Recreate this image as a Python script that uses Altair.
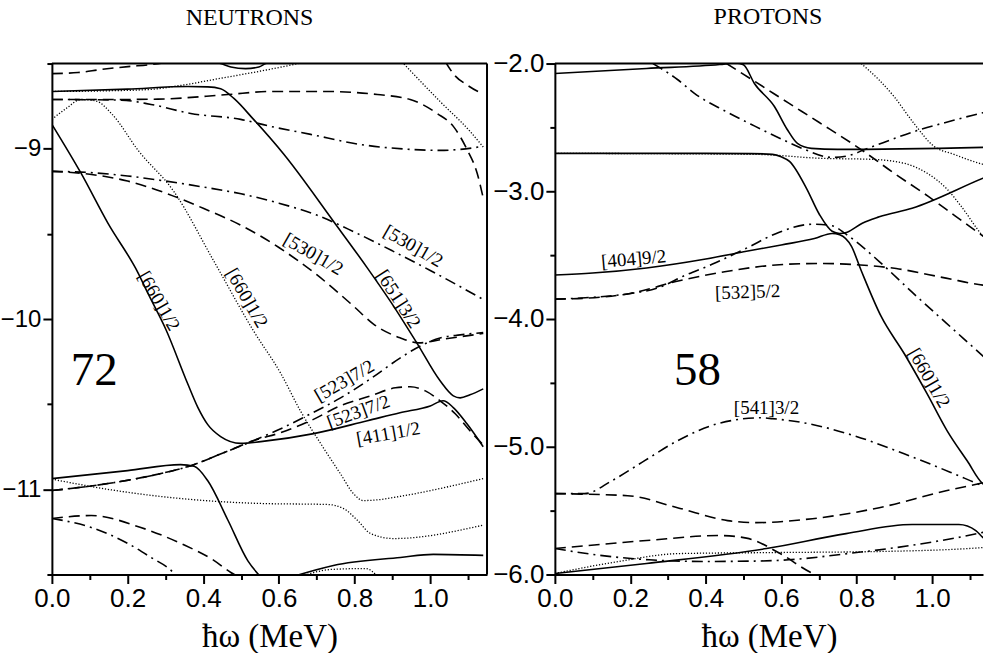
import altair as alt
import pandas as pd

# ---------------- NEUTRONS panel (x: hbar*omega in MeV, y: energy) ----------------
n01_x = [0.0, 0.077, 0.148, 0.228, 0.254, 0.301, 0.359, 0.386, 0.412, 0.446, 0.499, 0.552, 0.692, 0.834, 0.92, 1.000, 1.034, 1.061, 1.097, 1.14]
n01_y = [-8.857, -9.144, -9.437, -9.730, -9.85, -10.06, -10.38, -10.52, -10.62, -10.69, -10.73, -10.72, -10.673, -10.597, -10.55, -10.51, -10.48, -10.52, -10.615, -10.75]
n02_x = [0.0, 0.2, 0.359, 0.412, 0.446, 0.481, 0.533, 0.613, 0.744, 0.834, 0.903, 0.966, 1.026, 1.061, 1.079, 1.105, 1.14]
n02_y = [-8.664, -8.65, -8.635, -8.637, -8.648, -8.705, -8.828, -9.033, -9.426, -9.701, -9.924, -10.146, -10.363, -10.451, -10.463, -10.445, -10.41]
n03_x = [0.0, 0.15, 0.26, 0.35, 0.45, 0.55, 0.64, 0.67]
n03_y = [-8.664, -8.66, -8.652, -8.625, -8.585, -8.545, -8.505, -8.49]
n04_x = [0.0, 0.069, 0.130, 0.201, 0.262, 0.31]
n04_y = [-8.559, -8.553, -8.535, -8.518, -8.506, -8.49]
n05_x = [0.43, 0.446, 0.473, 0.512, 0.547, 0.565, 0.58]
n05_y = [-8.49, -8.5, -8.52, -8.53, -8.52, -8.5, -8.49]
n06_x = [0.0, 0.183, 0.28, 0.465, 0.578, 0.729, 0.860, 0.947, 1.018, 1.061, 1.097, 1.124, 1.14]
n06_y = [-8.711, -8.711, -8.709, -8.682, -8.664, -8.664, -8.682, -8.711, -8.793, -8.869, -9.004, -9.144, -9.29]
n07_x = [0.0, 0.183, 0.262, 0.367, 0.499, 0.578, 0.684, 0.815, 0.947, 1.026, 1.079, 1.14]
n07_y = [-8.711, -8.715, -8.740, -8.793, -8.828, -8.869, -8.916, -8.975, -9.004, -9.010, -9.004, -8.986]
n08_x = [0.0, 0.04, 0.077, 0.117, 0.16, 0.228, 0.322, 0.428, 0.533, 0.605, 0.657, 0.71, 0.763, 0.797, 0.823, 0.868, 0.903, 1.14]
n08_y = [-8.828, -8.76, -8.711, -8.72, -8.80, -9.01, -9.25, -9.66, -10.07, -10.32, -10.54, -10.73, -10.91, -11.025, -11.066, -11.06, -11.048, -10.937]
n09_x = [0.0, 0.1, 0.2, 0.3, 0.4, 0.5, 0.6, 0.7, 0.8, 0.9, 1.0, 1.14]
n09_y = [-9.133, -9.14, -9.16, -9.19, -9.225, -9.265, -9.32, -9.39, -9.49, -9.60, -9.715, -9.885]
n10_x = [0.0, 0.1, 0.2, 0.3, 0.4, 0.5, 0.6, 0.7, 0.8, 0.85, 0.92, 0.97, 1.03, 1.14]
n10_y = [-9.133, -9.15, -9.19, -9.26, -9.35, -9.45, -9.58, -9.74, -9.93, -10.03, -10.11, -10.14, -10.12, -10.085]
n11_x = [0.0, 0.2, 0.34, 0.376, 0.412, 0.465, 0.518, 0.55]
n11_y = [-10.937, -10.89, -10.855, -10.865, -10.95, -11.18, -11.42, -11.51]
n12_x = [0.0, 0.148, 0.322, 0.552, 0.729, 0.771, 0.808, 0.842, 0.903, 1.14]
n12_y = [-10.94, -11.0, -11.05, -11.083, -11.089, -11.113, -11.183, -11.259, -11.289, -11.21]
n13_x = [0.0, 0.148, 0.262, 0.367, 0.454, 0.533, 0.605, 0.684, 0.763, 0.842, 0.908, 0.947, 0.987, 1.026, 1.066, 1.105, 1.14]
n13_y = [-11.007, -10.966, -10.920, -10.861, -10.785, -10.714, -10.667, -10.597, -10.509, -10.451, -10.404, -10.398, -10.422, -10.480, -10.556, -10.656, -10.74]
n14_x = [0.0, 0.148, 0.262, 0.367, 0.454, 0.533, 0.605, 0.684, 0.763, 0.842, 0.921, 0.974, 1.026, 1.079, 1.14]
n14_y = [-11.007, -10.966, -10.920, -10.861, -10.785, -10.714, -10.644, -10.556, -10.463, -10.351, -10.228, -10.158, -10.111, -10.093, -10.08]
n15_x = [0.0, 0.104, 0.235, 0.341, 0.428, 0.473, 0.49]
n15_y = [-11.171, -11.154, -11.224, -11.318, -11.417, -11.488, -11.51]
n16_x = [0.0, 0.104, 0.201, 0.262, 0.315, 0.33]
n16_y = [-11.171, -11.224, -11.318, -11.400, -11.476, -11.51]
n17_x = [0.925, 1.026, 1.105, 1.14]
n17_y = [-8.49, -8.723, -8.898, -8.99]
n18_x = [1.04, 1.061, 1.1, 1.14]
n18_y = [-8.49, -8.56, -8.63, -8.68]
n19_x = [0.64, 0.744, 0.921, 1.008, 1.14]
n19_y = [-11.51, -11.447, -11.40, -11.382, -11.388]
n20_x = [0.66, 0.74, 0.83, 0.86]
n20_y = [-11.51, -11.47, -11.465, -11.51]

n_curves = [
    ("n01", "solid", n01_x, n01_y), ("n02", "solid", n02_x, n02_y),
    ("n03", "dotted", n03_x, n03_y), ("n04", "dashed", n04_x, n04_y),
    ("n05", "solid", n05_x, n05_y), ("n06", "dashed", n06_x, n06_y),
    ("n07", "dashdot", n07_x, n07_y), ("n08", "dotted", n08_x, n08_y),
    ("n09", "dashdot", n09_x, n09_y), ("n10", "dashed", n10_x, n10_y),
    ("n11", "solid", n11_x, n11_y), ("n12", "dotted", n12_x, n12_y),
    ("n13", "dashed", n13_x, n13_y), ("n14", "dashdot", n14_x, n14_y),
    ("n15", "dashed", n15_x, n15_y), ("n16", "dashdot", n16_x, n16_y),
    ("n17", "dotted", n17_x, n17_y), ("n18", "dashed", n18_x, n18_y),
    ("n19", "solid", n19_x, n19_y), ("n20", "dotted", n20_x, n20_y),
]

n_lab_text = ["[660]1/2", "[660]1/2", "[530]1/2", "[530]1/2", "[651]3/2", "[523]7/2", "[523]7/2", "[411]1/2"]
n_lab_x = [0.283, 0.515, 0.691, 0.955, 0.916, 0.773, 0.810, 0.889]
n_lab_y = [-9.894, -9.877, -9.619, -9.572, -9.883, -10.363, -10.545, -10.673]
n_lab_angle = [60, 60, 30, 30, 57, 330, 340, 350]
n_big_text, n_big_x, n_big_y = ["72"], [0.112], [-10.304]

# ---------------- PROTONS panel ----------------
p01_x = [0.0, 0.243, 0.437, 0.48, 0.50, 0.529, 0.582, 0.616, 0.643, 0.680, 0.749, 1.135, 1.15]
p01_y = [-2.078, -2.039, -2.008, -1.995, -2.01, -2.156, -2.336, -2.516, -2.625, -2.664, -2.672, -2.656, -2.655]
p02_x = [0.26, 0.325, 0.37, 0.45, 0.53, 0.60, 0.66, 0.735, 0.78, 0.82, 0.87, 0.96, 1.05, 1.135, 1.15]
p02_y = [-2.0, -2.125, -2.234, -2.37, -2.49, -2.59, -2.67, -2.735, -2.72, -2.675, -2.62, -2.525, -2.45, -2.385, -2.375]
p03_x = [0.455, 0.53, 0.62, 0.70, 0.81, 0.90, 0.99, 1.06, 1.135, 1.15]
p03_y = [-2.0, -2.14, -2.31, -2.46, -2.67, -2.86, -3.04, -3.19, -3.35, -3.38]
p04_x = [0.0, 0.40, 0.52, 0.577, 0.60, 0.622, 0.667, 0.701, 0.735, 0.755, 0.775, 0.815, 0.86, 0.947, 1.135, 1.15]
p04_y = [-2.703, -2.703, -2.705, -2.711, -2.73, -2.766, -2.977, -3.180, -3.313, -3.33, -3.32, -3.25, -3.20, -3.133, -2.898, -2.88]
p05_x = [0.0, 0.529, 0.706, 0.839, 0.926, 0.987, 1.040, 1.077, 1.135, 1.15]
p05_y = [-2.703, -2.711, -2.742, -2.75, -2.781, -2.859, -2.984, -3.117, -3.352, -3.40]
p06_x = [0.812, 0.86, 0.899, 0.952, 1.005, 1.058, 1.135, 1.15]
p06_y = [-2.0, -2.13, -2.258, -2.469, -2.648, -2.711, -2.789, -2.80]
p07_x = [0.0, 0.1, 0.2, 0.27, 0.344, 0.418, 0.508, 0.595, 0.683, 0.735, 0.772, 0.86, 0.947, 1.037, 1.135, 1.15]
p07_y = [-3.844, -3.83, -3.80, -3.76, -3.66, -3.57, -3.445, -3.32, -3.258, -3.27, -3.336, -3.55, -3.79, -4.03, -4.29, -4.33]
p08_x = [0.0, 0.06, 0.2, 0.33, 0.45, 0.595, 0.70, 0.772, 0.905, 1.037, 1.135, 1.15]
p08_y = [-3.844, -3.84, -3.80, -3.70, -3.63, -3.575, -3.565, -3.57, -3.605, -3.68, -3.735, -3.74]
p09_x = [0.0, 0.1, 0.243, 0.4, 0.508, 0.60, 0.688, 0.735, 0.755, 0.786, 0.812, 0.865, 0.926, 0.987, 1.040, 1.093, 1.135, 1.15]
p09_y = [-3.656, -3.64, -3.60, -3.53, -3.47, -3.42, -3.37, -3.33, -3.34, -3.43, -3.62, -3.98, -4.27, -4.586, -4.875, -5.11, -5.29, -5.31]
p10_x = [0.0, 0.079, 0.151, 0.238, 0.325, 0.431, 0.548, 0.577, 0.661, 0.794, 0.926, 1.058, 1.135, 1.15]
p10_y = [-5.367, -5.367, -5.266, -5.109, -4.953, -4.82, -4.773, -4.78, -4.813, -4.914, -5.055, -5.211, -5.305, -5.32]
p11_x = [0.0, 0.193, 0.325, 0.458, 0.534, 0.683, 0.860, 1.037, 1.135, 1.15]
p11_y = [-5.367, -5.383, -5.477, -5.578, -5.594, -5.563, -5.477, -5.344, -5.281, -5.27]
p12_x = [0.0, 0.243, 0.437, 0.508, 0.595, 0.683, 0.70]
p12_y = [-5.797, -5.734, -5.695, -5.715, -5.832, -5.99, -6.01]
p13_x = [0.0, 0.12, 0.25, 0.40, 0.53, 0.62, 0.78, 0.95, 1.135, 1.15]
p13_y = [-5.797, -5.85, -5.885, -5.898, -5.895, -5.885, -5.835, -5.77, -5.67, -5.66]
p14_x = [0.0, 0.243, 0.561, 0.772, 0.947, 1.071, 1.116, 1.135, 1.15]
p14_y = [-5.992, -5.914, -5.797, -5.68, -5.609, -5.609, -5.656, -5.711, -5.74]
p15_x = [0.0, 0.153, 0.331, 0.595, 0.860, 1.135, 1.15]
p15_y = [-5.992, -5.906, -5.836, -5.828, -5.82, -5.789, -5.785]

p_curves = [
    ("p01", "solid", p01_x, p01_y), ("p02", "dashdot", p02_x, p02_y),
    ("p03", "dashed", p03_x, p03_y), ("p04", "solid", p04_x, p04_y),
    ("p05", "dotted", p05_x, p05_y), ("p06", "dotted", p06_x, p06_y),
    ("p07", "dashdot", p07_x, p07_y), ("p08", "dashed", p08_x, p08_y),
    ("p09", "solid", p09_x, p09_y), ("p10", "dashdot", p10_x, p10_y),
    ("p11", "dashed", p11_x, p11_y), ("p12", "dashed", p12_x, p12_y),
    ("p13", "dashdot", p13_x, p13_y), ("p14", "solid", p14_x, p14_y),
    ("p15", "dotted", p15_x, p15_y),
]

p_lab_text = ["[404]9/2", "[532]5/2", "[660]1/2", "[541]3/2"]
p_lab_x = [0.209, 0.511, 0.992, 0.561]
p_lab_y = [-3.531, -3.789, -4.461, -4.695]
p_lab_angle = [355, 358, 60, 0]
p_big_text, p_big_x, p_big_y = ["58"], [0.378], [-4.406]

x_ticks = [round(0.1 * i, 1) for i in range(12)]
n_y_ticks = [-11.5, -11.0, -10.5, -10.0, -9.5, -9.0, -8.5]
p_y_ticks = [-6.0, -5.5, -5.0, -4.5, -4.0, -3.5, -3.0, -2.5, -2.0]

# ---------------- styling ----------------
STYLES = {
    "solid": dict(strokeWidth=1.6),
    "dashed": dict(strokeWidth=1.6, strokeDash=[11, 6]),
    "dashdot": dict(strokeWidth=1.6, strokeDash=[11, 5, 2, 5]),
    "dotted": dict(strokeWidth=1.3, strokeDash=[1.2, 1.8]),
}
SANS = "Liberation Sans"
SERIF = "Liberation Serif"
H = 512


def make_axis(values, test, fmt, title, label_size):
    kw = dict(
        values=values,
        labelExpr=f"({test}) ? format(datum.value, '{fmt}') : ''",
        tickSize={"condition": {"test": test, "value": 9}, "value": 5},
        tickWidth=2, tickColor="black", domainWidth=2, domainColor="black",
        labelFont=SANS, labelFontSize=label_size, labelColor="black", labelPadding=2,
        labelFlush=False, labelOverlap=False, grid=False,
    )
    if title is None:
        kw["title"] = None
    else:
        kw.update(title=title, titleFont=SERIF, titleFontSize=33, titleFontWeight="normal",
                  titleColor="black", titlePadding=9)
    return alt.Axis(**kw)


def panel(curves, lab_text, lab_x, lab_y, lab_angle, big_text, big_x, big_y,
          xdom, ydom, yticks, yfmt, ysize, width, title, title_dx, right_border):
    rows = []
    for cid, style, xs, ys in curves:
        for i, (xv, yv) in enumerate(zip(xs, ys)):
            rows.append({"curve": cid, "style": style, "i": i, "x": xv, "y": yv})
    df = pd.DataFrame(rows)

    xtest = "abs(datum.value*5 - round(datum.value*5)) < 0.001"
    ytest = "abs(datum.value - round(datum.value)) < 0.001"
    X = alt.X("x:Q", scale=alt.Scale(domain=xdom, nice=False, zero=False),
              axis=make_axis(x_ticks, xtest, ".1f", "ħω (MeV)", 26))
    Y = alt.Y("y:Q", scale=alt.Scale(domain=ydom, nice=False, zero=False),
              axis=make_axis(yticks, ytest, yfmt, None, ysize))

    layers = []
    for style, props in STYLES.items():
        sub = df[df["style"] == style]
        if len(sub) == 0:
            continue
        layers.append(
            alt.Chart(sub).mark_line(color="black", clip=True, interpolate="monotone",
                                     **props).encode(
                x=X, y=Y, detail="curve:N", order="i:Q")
        )

    labels = pd.DataFrame({"x": lab_x, "y": lab_y, "text": lab_text, "angle": lab_angle})
    layers.append(
        alt.Chart(labels).mark_text(font=SERIF, fontSize=19, color="black",
                                    align="center", baseline="middle").encode(
            x=X, y=Y, text="text:N", angle=alt.Angle("angle:Q", scale=None))
    )
    big = pd.DataFrame({"x": big_x, "y": big_y, "text": big_text})
    layers.append(
        alt.Chart(big).mark_text(font=SERIF, fontSize=47, color="black",
                                 align="center", baseline="middle").encode(
            x=X, y=Y, text="text:N")
    )

    one = pd.DataFrame({"a": [0]})
    layers.append(
        alt.Chart(one).mark_rule(color="black", strokeWidth=2).encode(
            x=alt.value(0), x2=alt.value(width), y=alt.value(0))
    )
    if right_border:
        layers.append(
            alt.Chart(one).mark_rule(color="black", strokeWidth=2).encode(
                x=alt.value(width), y=alt.value(0), y2=alt.value(H))
        )

    return alt.layer(*layers).properties(
        width=width, height=H,
        title=alt.TitleParams(title, font=SERIF, fontSize=24, fontWeight="normal",
                              color="black", anchor="middle", dx=title_dx, offset=22),
    )


left = panel(n_curves, n_lab_text, n_lab_x, n_lab_y, n_lab_angle, n_big_text, n_big_x, n_big_y,
             [0.0, 1.15], [-11.5, -8.5], n_y_ticks, "d", 24, 436, "NEUTRONS", -20, True)
right = panel(p_curves, p_lab_text, p_lab_x, p_lab_y, p_lab_angle, p_big_text, p_big_x, p_big_y,
              [0.0, 1.135], [-6.0, -2.0], p_y_ticks, ".1f", 26, 429, "PROTONS", -1, False)

chart = alt.hconcat(left, right, spacing=68, bounds="flush").configure_view(
    stroke=None).properties(
    padding={"left": 0, "top": 4, "right": 0, "bottom": 0}, background="white")

chart.save("out.html", embed_options={"renderer": "svg", "actions": False})
